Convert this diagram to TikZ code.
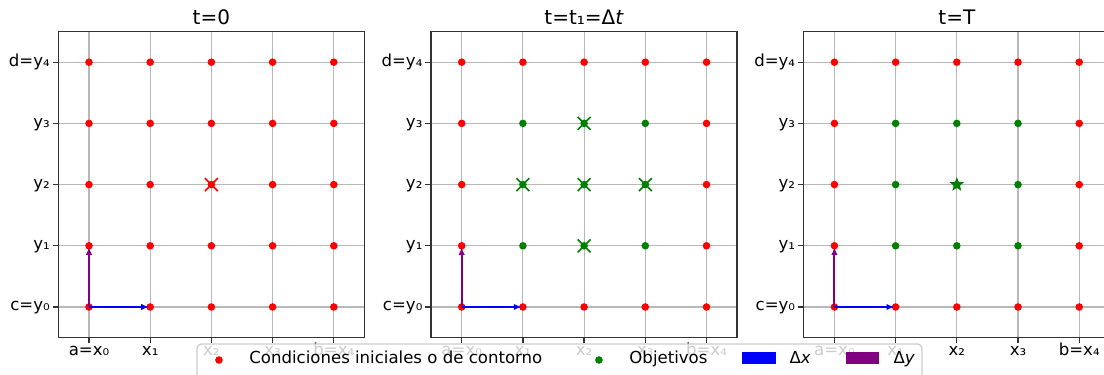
\documentclass[tikz,border=0pt]{standalone}
\usepackage{fontspec}
\setmainfont{DejaVu Sans}
\usetikzlibrary{arrows.meta,shapes.geometric}
\definecolor{bcred}{HTML}{FF0000}
\definecolor{objgreen}{HTML}{008000}
\definecolor{dxblue}{HTML}{0000FF}
\definecolor{dypurple}{HTML}{800080}
\definecolor{gridgray}{HTML}{B8B8B8}
\tikzset{
  gridline/.style={gridgray,line width=0.55pt},
  spine/.style={black!80,line width=0.6pt},
  ticklab/.style={inner sep=0pt,font=\fontsize{7.7}{9}\selectfont},
  titlelab/.style={inner sep=0pt,font=\fontsize{9.3}{11}\selectfont},
  dxarrow/.style={dxblue,line width=0.95pt,-{Latex[length=3.6pt,width=3pt]},shorten >=0.6pt},
  dyarrow/.style={dypurple,line width=0.95pt,-{Latex[length=3.6pt,width=3pt]},shorten >=0.6pt},
  crossmark/.style={line width=0.75pt},
  keybox/.style={draw=black!20,fill=white,fill opacity=0.8,rounded corners=2pt,line width=0.62pt},
}
% frame, grid, ticks and title of one time level
\newcommand{\meshpanel}[3]{%
  \begin{scope}[xshift=#1cm]
    \foreach \k in {0,...,4}{
      \draw[gridline] (\k,-0.5)--(\k,4.5);
      \draw[gridline] (-0.5,\k)--(4.5,\k);}
    \draw[spine] (-0.5,-0.5) rectangle (4.5,4.5);
    \foreach \k/\lx/\ly in {0/a=x₀/c=y₀,1/x₁/y₁,2/x₂/y₂,3/x₃/y₃,4/b=x₄/d=y₄}{
      \draw[spine] (\k,-0.5)--(\k,-0.595);
      \draw[spine] (-0.5,\k)--(-0.595,\k);
      \node[ticklab,anchor=base] at (\k,-0.8) {\lx};
      \node[ticklab,anchor=base east] at (-0.635,\k-0.065) {\ly};}
    \node[titlelab,anchor=base] (title#2) at (2,4.608) {#3};
    \coordinate (org#2) at (0,0);
    \coordinate (dx#2) at (1,0);
    \coordinate (dy#2) at (0,1);
  \end{scope}}
% mesh points: #2=1 paints the interior green
\newcommand{\meshdots}[2]{%
  \begin{scope}[xshift=#1cm]
    \foreach \i in {0,...,4}{\foreach \j in {0,...,4}{
      \pgfmathtruncatemacro\isobj{and(and(\i>0,\i<4),and(\j>0,\j<4))*#2}
      \ifnum\isobj=1 \def\dotcol{objgreen}\else\def\dotcol{bcred}\fi
      \fill[\dotcol] (\i,\j) circle (0.062);}}
  \end{scope}}
\newcommand{\crossat}[3]{%
  \draw[#1,crossmark,shift={(#2,#3)}] (-0.105,-0.105)--(0.105,0.105) (-0.105,0.105)--(0.105,-0.105);}

\begin{document}
\begin{tikzpicture}
  \useasboundingbox (-1.454,-1.095) rectangle (16.585,5.016);
  \clip (-1.454,-1.095) rectangle (16.585,5.016);

  \meshpanel{0}{1}{t=0}
  \meshpanel{6.09}{2}{t=t₁=Δ\textit{t}}
  \meshpanel{12.18}{3}{t=T}

  \meshdots{0}{0}
  \meshdots{6.09}{1}
  \meshdots{12.18}{1}

  % stencil marks
  \crossat{bcred}{2}{2}
  \foreach \p/\q in {8.09/3,7.09/2,8.09/2,9.09/2,8.09/1}{\crossat{objgreen}{\p}{\q}}
  \node[star,star points=5,star point ratio=2.4,fill=objgreen,inner sep=0pt,minimum size=0.25cm] (goal) at (14.18,2) {};

  \foreach \n in {1,2,3}{
    \draw[dxarrow] (org\n) -- (dx\n);
    \draw[dyarrow] (org\n) -- (dy\n);}

  % legend
  \draw[keybox] (1.765,-1.4) rectangle (13.61,-0.605);
  \node[circle,fill=bcred,inner sep=0pt,minimum size=0.124cm] (keybc) at (2.124,-0.866) {};
  \node[ticklab,anchor=base west] (txtbc) at (2.614,-0.93) {Condiciones iniciales o de contorno};
  \node[circle,fill=objgreen,inner sep=0pt,minimum size=0.124cm] (keyobj) at (8.333,-0.866) {};
  \node[ticklab,anchor=base west] (txtobj) at (8.824,-0.93) {Objetivos};
  \fill[dxblue] (10.67,-0.93) rectangle (11.225,-0.735);
  \node[ticklab,anchor=base west] (txtdx) at (11.44,-0.93) {Δ\textit{x}};
  \fill[dypurple] (12.37,-0.93) rectangle (12.91,-0.735);
  \node[ticklab,anchor=base west] (txtdy) at (13.14,-0.93) {Δ\textit{y}};
\end{tikzpicture}
\end{document}
